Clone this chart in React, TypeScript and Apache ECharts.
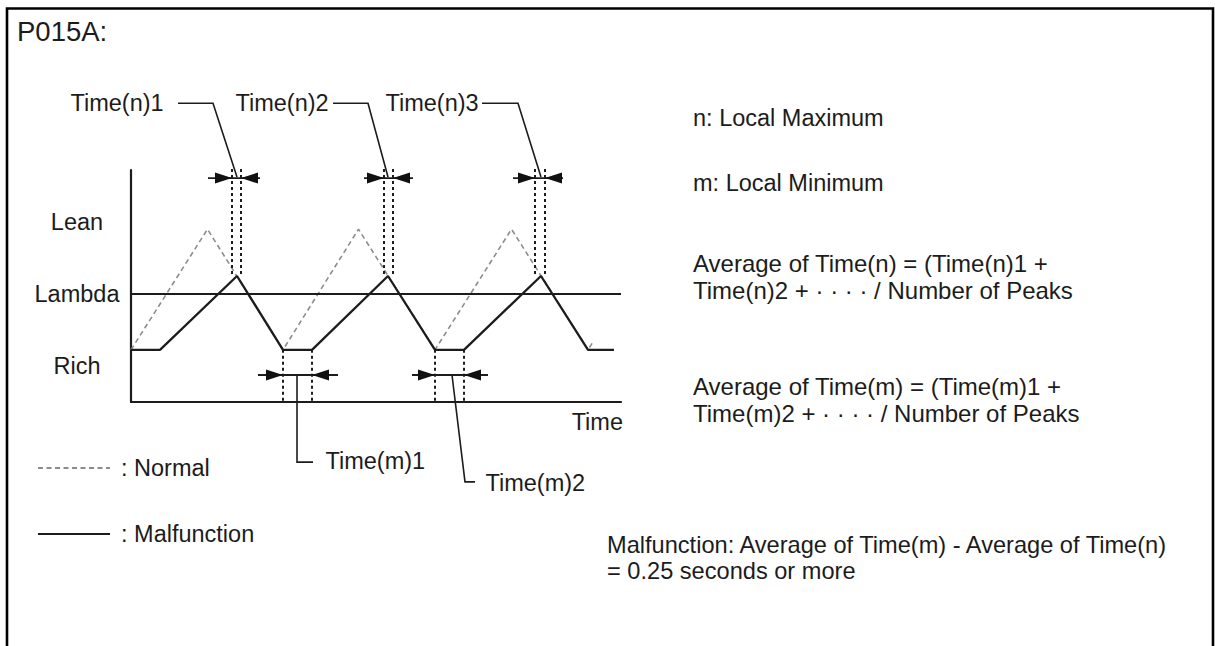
import React, { useEffect, useRef } from 'react';
import * as echarts from 'echarts';

// ---------- data (x: time units, y: air-fuel level units) ----------
const levelValues = [1, 3, 5];
const levelNames = ['Rich', 'Lambda', 'Lean'];

const malfunctionX = [0, 5.8, 21.2, 30.4, 36.2, 51.4, 60.8, 66.6, 82.0, 91.4, 96.6];
const malfunctionY = [1.45, 1.45, 3.5, 1.45, 1.45, 3.5, 1.45, 1.45, 3.5, 1.45, 1.45];

const normalX = [0, 15.3, 30.4, 45.5, 60.8, 76.1, 91.4, 92.4];
const normalY = [1.45, 4.8, 1.45, 4.8, 1.45, 4.8, 1.45, 1.67];

const lambdaX = [0, 98];
const lambdaY = [3, 3];

// local maximum markers
const peakPairs = [[20.2, 22.0], [50.6, 52.4], [80.8, 82.8]];
const peakMarkTop = 6.47;
const peakMarkBottom = 3.55;
const peakArrowY = 6.22;
const peakArrowSpan = [[15.4, 25.8], [46.6, 56.4], [76.4, 86.4]];
const peakLeaderX = [[9.4, 16.4, 21.2], [40.4, 47.4, 51.4], [70.2, 77.4, 82.0]];
const peakLeaderY = [8.3, 8.3, 6.25];
const peakLabels = ['Time(n)1', 'Time(n)2', 'Time(n)3'];
const peakLabelX = [-12.2, 20.8, 50.8];
const peakLabelY = 8.3;

// local minimum markers
const valleyPairs = [[30.4, 36.2], [60.8, 66.6]];
const valleyMarkTop = 1.45;
const valleyMarkBottom = 0;
const valleyArrowY = 0.75;
const valleyArrowSpan = [[25.4, 41.4], [56.2, 71.4]];
const valleyLeaderX = [[33.2, 33.2, 36.4], [64.2, 66.8, 68.8]];
const valleyLeaderY = [[0.75, -1.67, -1.67], [0.75, -2.22, -2.22]];
const valleyLabels = ['Time(m)1', 'Time(m)2'];
const valleyLabelX = [38.8, 70.8];
const valleyLabelY = [-1.65, -2.24];

// axis name position (end of the time axis, below it)
const axisNameText = 'Time';
const axisNameX = 98.5;
const axisNameY = -0.56;

// explanatory text
const titleText = 'P015A:';
const noteMax = 'n: Local Maximum';
const noteMin = 'm: Local Minimum';
const avgN = ['Average of Time(n) = (Time(n)1 +', 'Time(n)2 + · · · · / Number of Peaks'];
const avgM = ['Average of Time(m) = (Time(m)1 +', 'Time(m)2 + · · · · / Number of Peaks'];
const judgement = ['Malfunction: Average of Time(m) - Average of Time(n)', '= 0.25 seconds or more'];

// ---------- styling ----------
const FONT = '"Liberation Sans", Arial, Helvetica, sans-serif';
const INK = '#1c1c1c';
const FS = 23.5;

const pts = (xs: number[], ys: number[]) => xs.map((x, i) => [x, ys[i]]);

function txt(text: string, x: number, y: number, size = FS) {
  return {
    type: 'text',
    x,
    y,
    silent: true,
    style: {
      text,
      fill: INK,
      fontSize: size,
      fontFamily: FONT,
      align: 'left',
      verticalAlign: 'middle',
      textAlign: 'left',
      textVerticalAlign: 'middle',
    },
  };
}

function buildOption() {
  const verticalMarks = [
    ...peakPairs.flatMap((p) => p.map((x) => ({ coords: [[x, peakMarkTop], [x, peakMarkBottom]] }))),
    ...valleyPairs.flatMap((p) => p.map((x) => ({ coords: [[x, valleyMarkTop], [x, valleyMarkBottom]] }))),
  ];
  const arrowLines = [
    ...peakArrowSpan.map((s) => ({ coords: [[s[0], peakArrowY], [s[1], peakArrowY]] })),
    ...valleyArrowSpan.map((s) => ({ coords: [[s[0], valleyArrowY], [s[1], valleyArrowY]] })),
  ];
  const leaders = [
    ...peakLeaderX.map((xs) => ({ coords: pts(xs, peakLeaderY) })),
    ...valleyLeaderX.map((xs, i) => ({ coords: pts(xs, valleyLeaderY[i]) })),
  ];
  const rightTips = [
    ...peakPairs.map((p) => [p[0], peakArrowY]),
    ...valleyPairs.map((p) => [p[0], valleyArrowY]),
  ];
  const leftTips = [
    ...peakPairs.map((p) => [p[1], peakArrowY]),
    ...valleyPairs.map((p) => [p[1], valleyArrowY]),
  ];
  const labels = [
    ...peakLabels.map((t, i) => ({ name: t, value: [peakLabelX[i], peakLabelY] })),
    ...valleyLabels.map((t, i) => ({ name: t, value: [valleyLabelX[i], valleyLabelY[i]] })),
  ];
  const labelStyle = {
    show: true,
    distance: 0,
    formatter: '{b}',
    fontSize: FS,
    color: INK,
    fontFamily: FONT,
  };

  return {
    animation: false,
    backgroundColor: '#ffffff',
    grid: { left: 131, top: 170, width: 490, height: 232, containLabel: false },
    xAxis: {
      type: 'value',
      min: 0,
      max: 98,
      axisLine: { show: true, lineStyle: { color: INK, width: 2.2 } },
      axisTick: { show: false },
      axisLabel: { show: false },
      splitLine: { show: false },
    },
    yAxis: {
      type: 'value',
      min: 0,
      max: 232 / 36,
      interval: 1,
      axisLine: { show: true, lineStyle: { color: INK, width: 2.2 } },
      axisTick: { show: false },
      splitLine: { show: false },
      axisLabel: {
        formatter: (v: number) => {
          const i = levelValues.indexOf(Math.round(v * 1000) / 1000);
          return i >= 0 ? levelNames[i] : '';
        },
        align: 'center',
        margin: 54,
        fontSize: FS,
        color: INK,
        fontFamily: FONT,
        showMaxLabel: false,
      },
    },
    legend: {
      data: ['Normal', 'Malfunction'],
      orient: 'vertical',
      left: 37,
      top: 456,
      padding: 0,
      itemWidth: 72,
      itemHeight: 14,
      itemGap: 42,
      selectedMode: false,
      formatter: ': {name}',
      itemStyle: { opacity: 0 },
      textStyle: { fontSize: FS, color: INK, fontFamily: FONT, padding: [0, 0, 0, 6] },
    },
    graphic: [
      {
        type: 'rect',
        silent: true,
        shape: { x: 7, y: 8.5, width: 1206, height: 700 },
        style: { fill: 'none', stroke: '#000', lineWidth: 2.6 },
      },
      txt(titleText, 17, 31.5, 27.5),
      txt(noteMax, 693, 118),
      txt(noteMin, 693, 183),
      txt(avgN[0], 693, 263.5, 24),
      txt(avgN[1], 693, 290, 24),
      txt(avgM[0], 693, 386.5, 24),
      txt(avgM[1], 693, 413, 24),
      txt(judgement[0], 607, 545, 23.6),
      txt(judgement[1], 607, 570.5, 23.6),
    ],
    series: [
      {
        name: 'Normal',
        type: 'line',
        data: pts(normalX, normalY),
        symbol: 'none',
        clip: false,
        silent: true,
        z: 2,
        lineStyle: { color: '#8c8c8c', width: 1.6, type: [5, 3.5] },
      },
      {
        name: 'Malfunction',
        type: 'line',
        data: pts(malfunctionX, malfunctionY),
        symbol: 'none',
        clip: false,
        silent: true,
        z: 3,
        lineStyle: { color: INK, width: 2.3 },
      },
      {
        name: 'Lambda',
        type: 'line',
        data: pts(lambdaX, lambdaY),
        symbol: 'none',
        clip: false,
        silent: true,
        z: 3,
        lineStyle: { color: INK, width: 2 },
      },
      {
        type: 'lines',
        coordinateSystem: 'cartesian2d',
        polyline: true,
        clip: false,
        silent: true,
        z: 4,
        data: verticalMarks,
        lineStyle: { color: INK, width: 2, type: [3, 3], opacity: 1, curveness: 0 },
      },
      {
        type: 'lines',
        coordinateSystem: 'cartesian2d',
        polyline: true,
        clip: false,
        silent: true,
        z: 4,
        data: arrowLines,
        lineStyle: { color: INK, width: 1.8, opacity: 1, curveness: 0 },
      },
      {
        type: 'lines',
        coordinateSystem: 'cartesian2d',
        polyline: true,
        clip: false,
        silent: true,
        z: 4,
        data: leaders,
        lineStyle: { color: INK, width: 1.6, opacity: 1, curveness: 0 },
      },
      {
        type: 'scatter',
        data: rightTips,
        clip: false,
        silent: true,
        z: 5,
        symbol: 'path://M0,0L17,5.5L0,11Z',
        symbolSize: [17, 11],
        symbolOffset: [-8.5, 0],
        itemStyle: { color: '#111', opacity: 1 },
      },
      {
        type: 'scatter',
        data: leftTips,
        clip: false,
        silent: true,
        z: 5,
        symbol: 'path://M17,0L0,5.5L17,11Z',
        symbolSize: [17, 11],
        symbolOffset: [8.5, 0],
        itemStyle: { color: '#111', opacity: 1 },
      },
      {
        type: 'scatter',
        data: labels,
        clip: false,
        silent: true,
        z: 5,
        symbolSize: 1,
        itemStyle: { color: 'rgba(0,0,0,0)', opacity: 1 },
        label: { ...labelStyle, position: 'right' },
      },
      {
        type: 'scatter',
        data: [{ name: axisNameText, value: [axisNameX, axisNameY] }],
        clip: false,
        silent: true,
        z: 5,
        symbolSize: 1,
        itemStyle: { color: 'rgba(0,0,0,0)', opacity: 1 },
        label: { ...labelStyle, position: 'left' },
      },
    ],
  };
}

export default function App() {
  const ref = useRef<HTMLDivElement>(null);
  useEffect(() => {
    if (!ref.current) return;
    const chart = echarts.init(ref.current, null, { renderer: 'svg' });
    chart.setOption(buildOption() as any);
    return () => chart.dispose();
  }, []);
  return (
    <div
      ref={ref}
      style={{ position: 'fixed', left: 0, top: 0, width: 1215, height: 646, background: '#fff' }}
    />
  );
}
